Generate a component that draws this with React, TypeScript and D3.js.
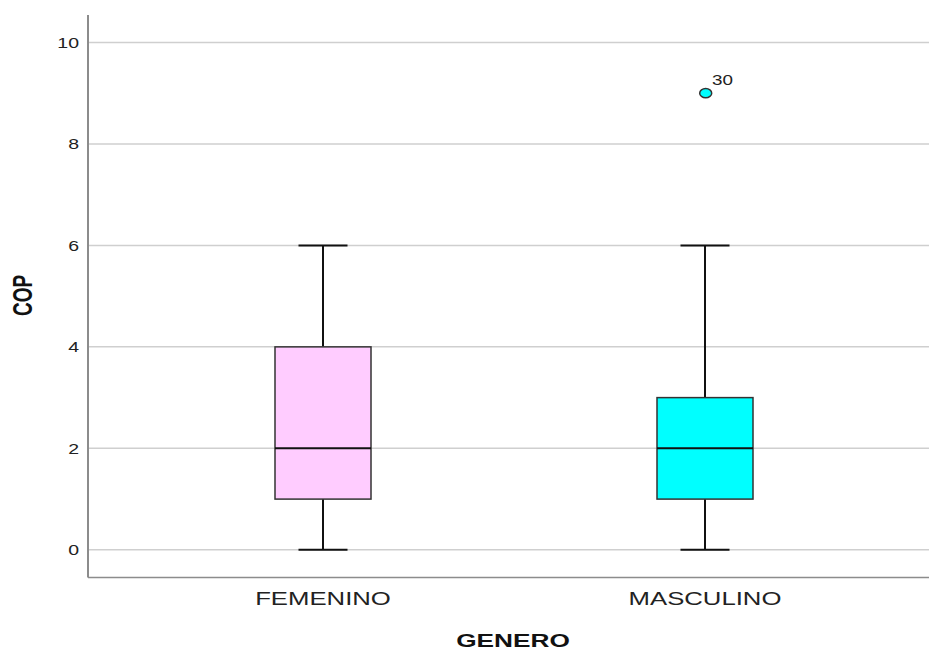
import React from "react";
import * as d3 from "d3";

// Box-plot summaries of COP by GENERO
const categories = ["FEMENINO", "MASCULINO"];
const minValues = [0, 0];
const q1Values = [1, 1];
const medianValues = [2, 2];
const q3Values = [4, 3];
const maxValues = [6, 6];
const boxColors = ["#FFCCFF", "#00FFFF"];

// Outliers: group, value, case label
const outlierGroups = ["MASCULINO"];
const outlierValues = [9];
const outlierLabels = ["30"];

const yTicks = [0, 2, 4, 6, 8, 10];

const W = 929;
const H = 650;
const plotLeft = 88;
const plotRight = 929;
const plotTop = 15;
const plotBottom = 577.5;

export default function App() {
  const y = d3.scaleLinear().domain([-0.545, 10.54]).range([plotBottom, plotTop]);
  const x = d3.scalePoint<string>().domain(categories).range([323, 705]);
  const boxW = 96;
  const capW = 49;

  return (
    <svg
      width={W}
      height={H}
      style={{ position: "absolute", left: 0, top: 0, background: "#fff" }}
      fontFamily="'Liberation Sans', Arial, sans-serif"
    >
      {/* gridlines */}
      {yTicks.map((t) => (
        <line
          key={"g" + t}
          x1={plotLeft}
          x2={plotRight}
          y1={y(t)}
          y2={y(t)}
          stroke="#cfcfcf"
          strokeWidth={1.5}
        />
      ))}
      {/* tick labels */}
      {yTicks.map((t) => (
        <text
          key={"t" + t}
          transform={`translate(79,${y(t) + 5.5}) scale(1.3,1)`}
          textAnchor="end"
          fontSize={15}
          fill="#222"
        >
          {t}
        </text>
      ))}
      {/* axes */}
      <line x1={plotLeft} x2={plotLeft} y1={plotTop} y2={plotBottom} stroke="#8c8c8c" strokeWidth={2} />
      <line x1={plotLeft} x2={plotRight} y1={plotBottom} y2={plotBottom} stroke="#8c8c8c" strokeWidth={1.5} />

      {/* boxes */}
      {categories.map((c, i) => {
        const cx = x(c) as number;
        return (
          <g key={c}>
            <line x1={cx} x2={cx} y1={y(maxValues[i])} y2={y(q3Values[i])} stroke="#111" strokeWidth={2} />
            <line x1={cx} x2={cx} y1={y(q1Values[i])} y2={y(minValues[i])} stroke="#111" strokeWidth={2} />
            <line x1={cx - capW / 2} x2={cx + capW / 2} y1={y(maxValues[i])} y2={y(maxValues[i])} stroke="#111" strokeWidth={2} />
            <line x1={cx - capW / 2} x2={cx + capW / 2} y1={y(minValues[i])} y2={y(minValues[i])} stroke="#111" strokeWidth={2} />
            <rect
              x={cx - boxW / 2}
              y={y(q3Values[i])}
              width={boxW}
              height={y(q1Values[i]) - y(q3Values[i])}
              fill={boxColors[i]}
              stroke="#333"
              strokeWidth={1.5}
            />
            <line x1={cx - boxW / 2} x2={cx + boxW / 2} y1={y(medianValues[i])} y2={y(medianValues[i])} stroke="#111" strokeWidth={2} />
            <text
              transform={`translate(${cx},605) scale(1.43,1)`}
              textAnchor="middle"
              fontSize={18}
              fill="#222"
            >
              {c}
            </text>
          </g>
        );
      })}

      {/* outliers */}
      {outlierValues.map((v, i) => {
        const gi = categories.indexOf(outlierGroups[i]);
        const cx = x(outlierGroups[i]) as number;
        return (
          <g key={"o" + i}>
            <ellipse cx={cx + 0.7} cy={y(v)} rx={6} ry={4.6} fill={boxColors[gi]} stroke="#333" strokeWidth={1.5} />
            <text
              transform={`translate(${cx + 7},${y(v) - 8.5}) scale(1.3,1)`}
              fontSize={14.5}
              fill="#222"
            >
              {outlierLabels[i]}
            </text>
          </g>
        );
      })}

      {/* axis titles */}
      <text
        transform="translate(513,647) scale(1.38,1)"
        textAnchor="middle"
        fontSize={19}
        fontWeight="bold"
        fill="#111"
      >
        GENERO
      </text>
      <text
        transform="translate(31.5,295.5) scale(1.45,1) rotate(-90)"
        textAnchor="middle"
        fontSize={19}
        fontWeight="bold"
        fill="#111"
      >
        COP
      </text>
    </svg>
  );
}
